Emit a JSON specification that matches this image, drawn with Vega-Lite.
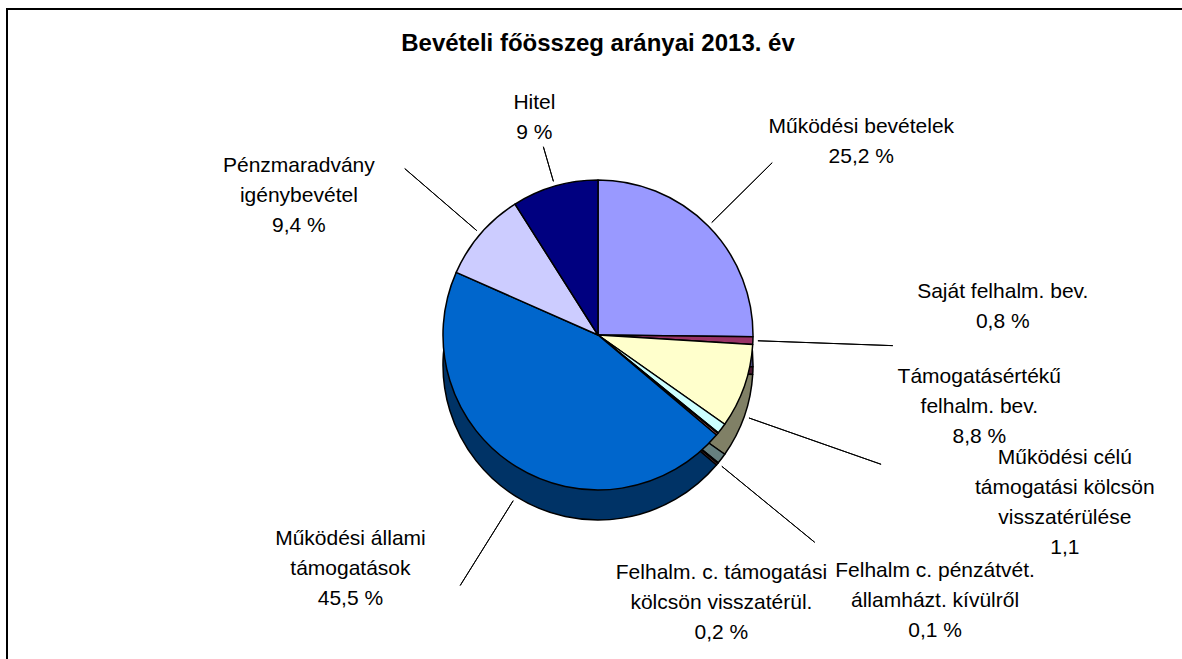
{
  "$schema": "https://vega.github.io/schema/vega-lite/v6.json",
  "width": 1182,
  "height": 652,
  "autosize": "none",
  "padding": {"left": 7, "top": 9, "right": -7, "bottom": -2},
  "background": "white",
  "view": {"stroke": "black", "strokeWidth": 2},
  "title": {
    "text": "Bevételi főösszeg arányai 2013. év",
    "font": "Liberation Sans",
    "fontSize": 24,
    "fontWeight": "bold",
    "color": "black",
    "anchor": "middle",
    "frame": "group",
    "offset": -47
  },
  "data": {
    "values": [
      {"idx": 1, "name": "Működési bevételek", "value": 25.2, "label": "Működési bevételek\n25,2 %"},
      {"idx": 2, "name": "Saját felhalm. bev.", "value": 0.8, "label": "Saját felhalm. bev.\n0,8 %"},
      {"idx": 3, "name": "Támogatásértékű felhalm. bev.", "value": 8.8, "label": "Támogatásértékű\nfelhalm. bev.\n8,8 %"},
      {"idx": 4, "name": "Működési célú támogatási kölcsön visszatérülése", "value": 1.1, "label": "Működési célú\ntámogatási kölcsön\nvisszatérülése\n1,1"},
      {"idx": 5, "name": "Felhalm c. pénzátvét. államházt. kívülről", "value": 0.1, "label": "Felhalm c. pénzátvét.\nállamházt. kívülről\n0,1 %"},
      {"idx": 6, "name": "Felhalm. c. támogatási kölcsön visszatérül.", "value": 0.2, "label": "Felhalm. c. támogatási\nkölcsön visszatérül.\n0,2 %"},
      {"idx": 7, "name": "Működési állami támogatások", "value": 45.5, "label": "Működési állami\ntámogatások\n45,5 %"},
      {"idx": 8, "name": "Pénzmaradvány igénybevétel", "value": 9.4, "label": "Pénzmaradvány\nigénybevétel\n9,4 %"},
      {"idx": 9, "name": "Hitel", "value": 9.0, "label": "Hitel\n9 %"}
    ]
  },
  "layer": [
    {
      "mark": {"type": "arc", "radius": 155, "yOffset": 30, "stroke": "black", "strokeWidth": 1.5, "strokeJoin": "round"},
      "encoding": {
        "theta": {"field": "value", "type": "quantitative", "stack": true},
        "order": {"field": "idx", "type": "quantitative"},
        "color": {
          "field": "name", "type": "nominal", "legend": null,
          "scale": {
            "domain": ["Működési bevételek", "Saját felhalm. bev.", "Támogatásértékű felhalm. bev.", "Működési célú támogatási kölcsön visszatérülése", "Felhalm c. pénzátvét. államházt. kívülről", "Felhalm. c. támogatási kölcsön visszatérül.", "Működési állami támogatások", "Pénzmaradvány igénybevétel", "Hitel"],
            "range": ["#4d4d80", "#4d1a33", "#808066", "#668080", "#330033", "#804040", "#003366", "#666680", "#000040"]
          }
        }
      }
    },
    {
      "mark": {"type": "arc", "radius": 155, "stroke": "black", "strokeWidth": 1.5, "strokeJoin": "round"},
      "encoding": {
        "theta": {"field": "value", "type": "quantitative", "stack": true},
        "order": {"field": "idx", "type": "quantitative"},
        "color": {
          "field": "name", "type": "nominal", "legend": null,
          "scale": {
            "domain": ["Működési bevételek", "Saját felhalm. bev.", "Támogatásértékű felhalm. bev.", "Működési célú támogatási kölcsön visszatérülése", "Felhalm c. pénzátvét. államházt. kívülről", "Felhalm. c. támogatási kölcsön visszatérül.", "Működési állami támogatások", "Pénzmaradvány igénybevétel", "Hitel"],
            "range": ["#9999ff", "#993366", "#ffffcc", "#ccffff", "#660066", "#ff8080", "#0066cc", "#ccccff", "#000080"]
          }
        }
      }
    },
    {
      "mark": {"type": "arc", "radius": 196, "radius2": 160, "padAngle": 3.1, "fillOpacity": 0, "stroke": "black", "strokeWidth": 1},
      "encoding": {
        "theta": {"field": "value", "type": "quantitative", "stack": true},
        "order": {"field": "idx", "type": "quantitative"},
        "strokeOpacity": {"condition": {"test": "datum.idx === 9", "value": 1}, "value": 0}
      }
    },
    {
      "mark": {"type": "arc", "radius": 245, "radius2": 160, "padAngle": 3.1, "fillOpacity": 0, "stroke": "black", "strokeWidth": 1},
      "encoding": {
        "theta": {"field": "value", "type": "quantitative", "stack": true},
        "order": {"field": "idx", "type": "quantitative"},
        "strokeOpacity": {"condition": {"test": "datum.idx === 1", "value": 1}, "value": 0}
      }
    },
    {
      "mark": {"type": "arc", "radius": 295, "radius2": 160, "padAngle": 3.1, "fillOpacity": 0, "stroke": "black", "strokeWidth": 1},
      "encoding": {
        "theta": {"field": "value", "type": "quantitative", "stack": true},
        "order": {"field": "idx", "type": "quantitative"},
        "strokeOpacity": {"condition": {"test": "datum.idx === 2", "value": 1}, "value": 0}
      }
    },
    {
      "mark": {"type": "arc", "radius": 255, "radius2": 160, "padAngle": 3.1, "fillOpacity": 0, "stroke": "black", "strokeWidth": 1},
      "encoding": {
        "theta": {"field": "value", "type": "quantitative", "stack": true},
        "order": {"field": "idx", "type": "quantitative"},
        "strokeOpacity": {"condition": {"test": "datum.idx === 8", "value": 1}, "value": 0}
      }
    },
    {
      "mark": {"type": "arc", "radius": 300, "radius2": 160, "padAngle": 3.1, "fillOpacity": 0, "stroke": "black", "strokeWidth": 1, "yOffset": 30},
      "encoding": {
        "theta": {"field": "value", "type": "quantitative", "stack": true},
        "order": {"field": "idx", "type": "quantitative"},
        "strokeOpacity": {"condition": {"test": "datum.idx === 3", "value": 1}, "value": 0}
      }
    },
    {
      "mark": {"type": "arc", "radius": 280, "radius2": 160, "padAngle": 3.1, "fillOpacity": 0, "stroke": "black", "strokeWidth": 1, "yOffset": 30},
      "encoding": {
        "theta": {"field": "value", "type": "quantitative", "stack": true},
        "order": {"field": "idx", "type": "quantitative"},
        "strokeOpacity": {"condition": {"test": "datum.idx === 5", "value": 1}, "value": 0}
      }
    },
    {
      "mark": {"type": "arc", "radius": 260, "radius2": 160, "padAngle": 3.1, "fillOpacity": 0, "stroke": "black", "strokeWidth": 1, "yOffset": 30},
      "encoding": {
        "theta": {"field": "value", "type": "quantitative", "stack": true},
        "order": {"field": "idx", "type": "quantitative"},
        "strokeOpacity": {"condition": {"test": "datum.idx === 7", "value": 1}, "value": 0}
      }
    },
    {
      "transform": [
        {"stack": "value", "groupby": [], "sort": [{"field": "idx", "order": "ascending"}], "as": ["v0", "v1"]},
        {"filter": "datum.idx === 9"},
        {"fold": ["v0", "v1"], "as": ["edge", "angle"]},
        {"aggregate": [{"op": "mean", "field": "angle", "as": "mid"}], "groupby": ["idx", "label"]}
      ],
      "mark": {"type": "text", "radius": 228, "dy": -13, "fontSize": 21, "lineHeight": 30, "lineBreak": "\n", "font": "Liberation Sans", "fill": "black", "align": "center", "baseline": "middle"},
      "encoding": {
        "theta": {"field": "mid", "type": "quantitative", "stack": null},
        "text": {"field": "label", "type": "nominal"}
      }
    },
    {
      "transform": [
        {"stack": "value", "groupby": [], "sort": [{"field": "idx", "order": "ascending"}], "as": ["v0", "v1"]},
        {"filter": "datum.idx === 1"},
        {"fold": ["v0", "v1"], "as": ["edge", "angle"]},
        {"aggregate": [{"op": "mean", "field": "angle", "as": "mid"}], "groupby": ["idx", "label"]}
      ],
      "mark": {"type": "text", "radius": 300, "dx": 50, "dy": 3, "fontSize": 21, "lineHeight": 30, "lineBreak": "\n", "font": "Liberation Sans", "fill": "black", "align": "center", "baseline": "middle"},
      "encoding": {
        "theta": {"field": "mid", "type": "quantitative", "stack": null},
        "text": {"field": "label", "type": "nominal"}
      }
    },
    {
      "transform": [
        {"stack": "value", "groupby": [], "sort": [{"field": "idx", "order": "ascending"}], "as": ["v0", "v1"]},
        {"filter": "datum.idx === 2"},
        {"fold": ["v0", "v1"], "as": ["edge", "angle"]},
        {"aggregate": [{"op": "mean", "field": "angle", "as": "mid"}], "groupby": ["idx", "label"]}
      ],
      "mark": {"type": "text", "radius": 405, "dy": -58, "fontSize": 21, "lineHeight": 30, "lineBreak": "\n", "font": "Liberation Sans", "fill": "black", "align": "center", "baseline": "middle"},
      "encoding": {
        "theta": {"field": "mid", "type": "quantitative", "stack": null},
        "text": {"field": "label", "type": "nominal"}
      }
    },
    {
      "transform": [
        {"stack": "value", "groupby": [], "sort": [{"field": "idx", "order": "ascending"}], "as": ["v0", "v1"]},
        {"filter": "datum.idx === 3"},
        {"fold": ["v0", "v1"], "as": ["edge", "angle"]},
        {"aggregate": [{"op": "mean", "field": "angle", "as": "mid"}], "groupby": ["idx", "label"]}
      ],
      "mark": {"type": "text", "radius": 385, "dx": 18, "dy": -85, "fontSize": 21, "lineHeight": 30, "lineBreak": "\n", "font": "Liberation Sans", "fill": "black", "align": "center", "baseline": "middle"},
      "encoding": {
        "theta": {"field": "mid", "type": "quantitative", "stack": null},
        "text": {"field": "label", "type": "nominal"}
      }
    },
    {
      "transform": [
        {"stack": "value", "groupby": [], "sort": [{"field": "idx", "order": "ascending"}], "as": ["v0", "v1"]},
        {"filter": "datum.idx === 4"},
        {"fold": ["v0", "v1"], "as": ["edge", "angle"]},
        {"aggregate": [{"op": "mean", "field": "angle", "as": "mid"}], "groupby": ["idx", "label"]}
      ],
      "mark": {"type": "text", "radius": 420, "dx": 132, "dy": -131, "fontSize": 21, "lineHeight": 30, "lineBreak": "\n", "font": "Liberation Sans", "fill": "black", "align": "center", "baseline": "middle"},
      "encoding": {
        "theta": {"field": "mid", "type": "quantitative", "stack": null},
        "text": {"field": "label", "type": "nominal"}
      }
    },
    {
      "transform": [
        {"stack": "value", "groupby": [], "sort": [{"field": "idx", "order": "ascending"}], "as": ["v0", "v1"]},
        {"filter": "datum.idx === 5"},
        {"fold": ["v0", "v1"], "as": ["edge", "angle"]},
        {"aggregate": [{"op": "mean", "field": "angle", "as": "mid"}], "groupby": ["idx", "label"]}
      ],
      "mark": {"type": "text", "radius": 420, "dx": 12, "dy": -30, "fontSize": 21, "lineHeight": 30, "lineBreak": "\n", "font": "Liberation Sans", "fill": "black", "align": "center", "baseline": "middle"},
      "encoding": {
        "theta": {"field": "mid", "type": "quantitative", "stack": null},
        "text": {"field": "label", "type": "nominal"}
      }
    },
    {
      "transform": [
        {"stack": "value", "groupby": [], "sort": [{"field": "idx", "order": "ascending"}], "as": ["v0", "v1"]},
        {"filter": "datum.idx === 6"},
        {"fold": ["v0", "v1"], "as": ["edge", "angle"]},
        {"aggregate": [{"op": "mean", "field": "angle", "as": "mid"}], "groupby": ["idx", "label"]}
      ],
      "mark": {"type": "text", "radius": 330, "dx": -130, "dy": 27, "fontSize": 21, "lineHeight": 30, "lineBreak": "\n", "font": "Liberation Sans", "fill": "black", "align": "center", "baseline": "middle"},
      "encoding": {
        "theta": {"field": "mid", "type": "quantitative", "stack": null},
        "text": {"field": "label", "type": "nominal"}
      }
    },
    {
      "transform": [
        {"stack": "value", "groupby": [], "sort": [{"field": "idx", "order": "ascending"}], "as": ["v0", "v1"]},
        {"filter": "datum.idx === 7"},
        {"fold": ["v0", "v1"], "as": ["edge", "angle"]},
        {"aggregate": [{"op": "mean", "field": "angle", "as": "mid"}], "groupby": ["idx", "label"]}
      ],
      "mark": {"type": "text", "radius": 335, "dx": -70, "dy": -80, "fontSize": 21, "lineHeight": 30, "lineBreak": "\n", "font": "Liberation Sans", "fill": "black", "align": "center", "baseline": "middle"},
      "encoding": {
        "theta": {"field": "mid", "type": "quantitative", "stack": null},
        "text": {"field": "label", "type": "nominal"}
      }
    },
    {
      "transform": [
        {"stack": "value", "groupby": [], "sort": [{"field": "idx", "order": "ascending"}], "as": ["v0", "v1"]},
        {"filter": "datum.idx === 8"},
        {"fold": ["v0", "v1"], "as": ["edge", "angle"]},
        {"aggregate": [{"op": "mean", "field": "angle", "as": "mid"}], "groupby": ["idx", "label"]}
      ],
      "mark": {"type": "text", "radius": 305, "dx": -68, "dy": 30, "fontSize": 21, "lineHeight": 30, "lineBreak": "\n", "font": "Liberation Sans", "fill": "black", "align": "center", "baseline": "middle"},
      "encoding": {
        "theta": {"field": "mid", "type": "quantitative", "stack": null},
        "text": {"field": "label", "type": "nominal"}
      }
    }
  ],
  "resolve": {"scale": {"color": "independent"}},
  "config": {"font": "Liberation Sans"}
}
